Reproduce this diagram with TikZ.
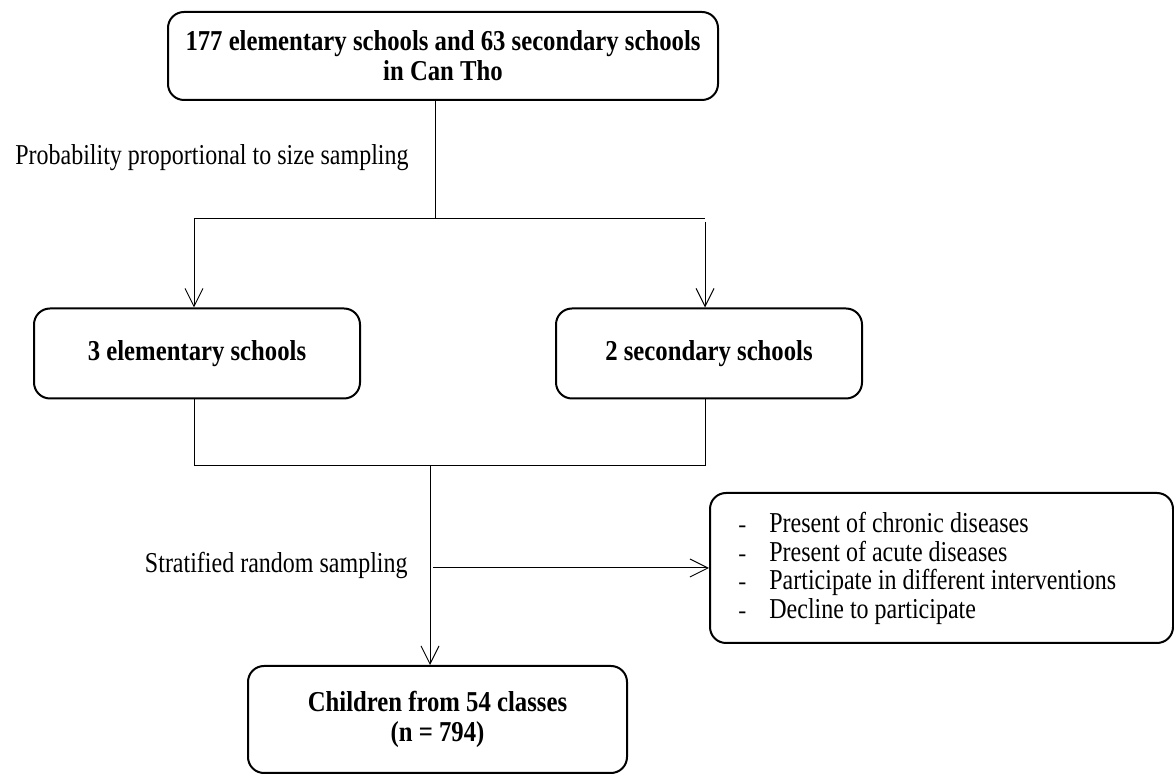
\documentclass[tikz,border=0pt]{standalone}
\usepackage{fontspec}
\usepackage{graphicx}
\setmainfont{Liberation Serif}
\usetikzlibrary{arrows.meta}
\newcommand\tall[1]{\scalebox{1.03}[1.2]{#1}}
\newcommand\tallr[1]{\scalebox{1.0}[1.2]{#1}}
\begin{document}
\begin{tikzpicture}[x=0.5pt,y=-0.5pt,
  box/.style={draw,line width=1pt,rounded corners=8pt,font=\fontsize{12}{15}\selectfont\bfseries,align=center,inner sep=0pt},
  conn/.style={line width=0.5pt},
  arr/.style={conn,-{Straight Barb[length=9pt,width=9pt,line width=0.5pt]}},
  lbl/.style={font=\fontsize{12}{14.15}\selectfont,inner sep=0pt}]
\useasboundingbox (0,0) rectangle (1174,774);
\node[box,minimum width=275pt,minimum height=44pt] (top) at (443,56)
  {\tall{177 elementary schools and 63 secondary schools}\\\tall{in Can Tho}};
\node[box,minimum width=163pt,minimum height=45pt] (lbox) at (197,353.5) {\tall{3 elementary schools}};
\node[box,minimum width=153pt,minimum height=45pt] (rbox) at (709,353.5) {\tall{2 secondary schools}};
\node[box,minimum width=231.5pt,minimum height=75pt] (list) at (941.5,568) {};
\node[lbl,anchor=west,align=left] (listtxt) at ([xshift=14.5pt,yshift=-0.75pt]list.west)
  {\begin{tabular}{@{}p{15.5pt}@{}l@{}}
   - & \tallr{Present of chronic diseases}\\
   - & \tallr{Present of acute diseases}\\
   - & \tallr{Participate in different interventions}\\
   - & \tallr{Decline to participate}
   \end{tabular}};
\node[box,minimum width=189.5pt,minimum height=53.5pt] (bot) at (437.5,719.5)
  {\tall{Children from 54 classes}\\\tall{(n = 794)}};
\node[lbl,anchor=east] (pps) at (409,158) {\tallr{Probability proportional to size sampling}};
\node[lbl,anchor=east] (srs) at (408,565) {\tallr{Stratified random sampling}};
\coordinate (j1) at (435,219);
\coordinate (j1l) at (194,219);
\coordinate (j1r) at (705,219);
\coordinate (j2l) at (194,466);
\coordinate (j2r) at (705,466);
\coordinate (v) at (430,466);
\draw[conn] (j1 |- top.south) -- (j1);
\draw[conn] (j1l) -- (j1r);
\draw[arr] (j1l) -- (j1l |- lbox.north);
\draw[arr] ([yshift=-1.5pt]j1r) -- (j1r |- rbox.north);
\draw[conn] (j2l |- lbox.south) -- (j2l) -- (j2r) -- (j2r |- rbox.south);
\draw[arr] (v) -- (v |- bot.north);
\draw[arr] ([xshift=1.5pt]v |- list.west) -- (list.west);
\end{tikzpicture}
\end{document}
